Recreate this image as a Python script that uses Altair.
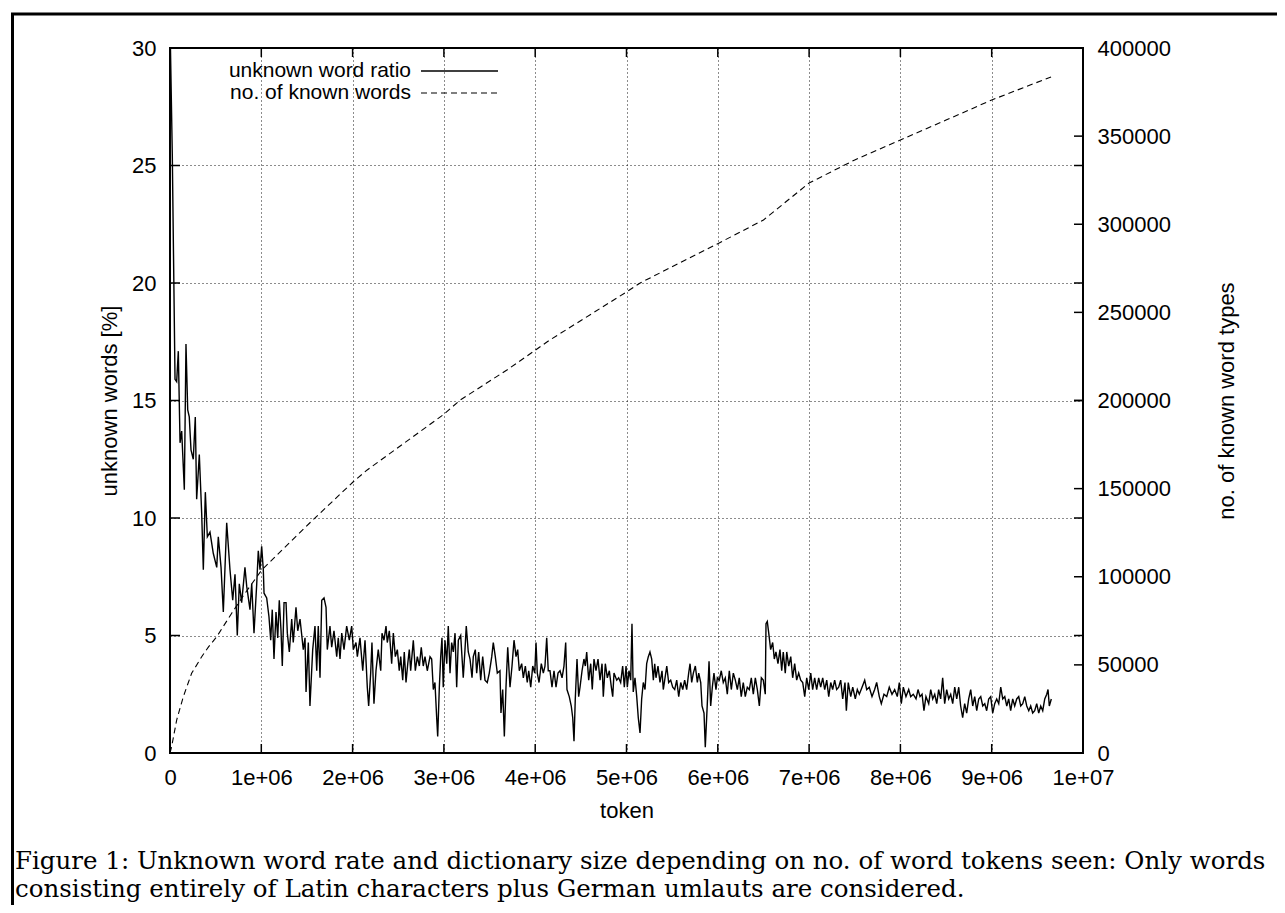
import json
import altair as alt
import pandas as pd

# ---------------- data ----------------
# unknown word ratio: (tokens seen, in millions ; unknown words in %)
unknown_ratio = [
    (0.005, 30.0), (0.025, 25.5), (0.055, 15.9), (0.073, 15.8), (0.091, 17.1), (0.110, 13.2),
    (0.128, 13.7), (0.157, 11.2), (0.175, 17.4), (0.194, 14.6), (0.211, 14.3), (0.230, 12.9),
    (0.255, 12.5), (0.277, 14.3), (0.292, 10.8), (0.321, 12.7), (0.347, 10.2), (0.365, 7.8),
    (0.387, 11.1), (0.409, 9.2), (0.438, 9.4), (0.474, 8.5), (0.512, 7.9), (0.529, 9.2),
    (0.559, 7.9), (0.584, 6.0), (0.621, 9.8), (0.657, 7.8), (0.687, 6.5), (0.712, 7.6),
    (0.737, 5.0), (0.759, 7.2), (0.785, 6.4), (0.821, 7.9), (0.840, 7.1), (0.876, 6.1),
    (0.895, 7.2), (0.920, 5.1), (0.950, 7.2), (0.967, 8.6), (0.986, 7.8), (1.004, 8.8),
    (1.022, 7.8), (1.030, 6.8), (1.059, 6.6), (1.084, 5.8), (1.103, 4.8), (1.120, 6.1),
    (1.139, 4.0), (1.161, 6.0), (1.180, 4.9), (1.197, 6.5), (1.216, 5.2), (1.230, 3.7),
    (1.249, 6.4), (1.271, 6.4), (1.285, 5.1), (1.307, 4.3), (1.333, 5.7), (1.350, 4.7),
    (1.380, 6.2), (1.399, 5.2), (1.424, 5.7), (1.460, 4.4), (1.479, 4.9), (1.490, 2.6),
    (1.515, 4.7), (1.533, 2.0), (1.563, 4.4), (1.588, 5.4), (1.607, 3.5), (1.624, 5.4),
    (1.643, 3.2), (1.662, 6.5), (1.687, 6.6), (1.709, 6.2), (1.723, 4.4), (1.752, 5.4),
    (1.771, 4.5), (1.796, 5.2), (1.826, 4.1), (1.843, 4.9), (1.862, 4.0), (1.881, 5.1),
    (1.906, 4.4), (1.935, 5.4), (1.964, 4.8), (1.990, 5.4), (2.008, 4.4), (2.037, 4.7),
    (2.052, 4.1), (2.081, 4.9), (2.111, 3.5), (2.136, 4.8), (2.161, 2.8), (2.176, 2.0),
    (2.198, 3.4), (2.212, 4.7), (2.234, 2.1), (2.256, 3.5), (2.281, 4.4), (2.308, 3.5),
    (2.322, 5.1), (2.344, 4.8), (2.366, 5.4), (2.380, 4.7), (2.402, 5.2), (2.428, 3.8),
    (2.446, 5.1), (2.468, 4.1), (2.490, 4.4), (2.511, 3.5), (2.527, 4.1), (2.549, 3.1),
    (2.566, 4.3), (2.585, 3.0), (2.604, 3.8), (2.621, 4.4), (2.636, 3.5), (2.665, 4.8),
    (2.687, 3.5), (2.709, 4.1), (2.731, 3.7), (2.752, 4.5), (2.774, 3.7), (2.793, 4.1),
    (2.818, 3.5), (2.848, 4.1), (2.866, 4.0), (2.884, 2.7), (2.902, 3.0), (2.921, 1.5),
    (2.932, 0.7), (2.950, 2.8), (2.965, 4.1), (2.979, 4.9), (2.993, 2.8), (3.012, 4.8),
    (3.031, 3.8), (3.048, 5.4), (3.067, 3.4), (3.085, 4.7), (3.103, 4.3), (3.122, 5.1),
    (3.140, 2.8), (3.158, 4.8), (3.184, 5.0), (3.198, 4.1), (3.212, 3.2), (3.231, 4.4),
    (3.245, 5.4), (3.267, 4.3), (3.286, 4.0), (3.308, 3.2), (3.322, 4.1), (3.344, 4.4),
    (3.359, 3.4), (3.381, 4.3), (3.403, 3.1), (3.425, 4.1), (3.450, 3.1), (3.475, 3.0),
    (3.497, 3.4), (3.524, 4.1), (3.541, 4.7), (3.563, 4.1), (3.585, 3.4), (3.614, 3.5),
    (3.625, 1.7), (3.644, 2.7), (3.662, 0.7), (3.680, 2.8), (3.699, 4.5), (3.724, 2.8),
    (3.746, 3.7), (3.768, 4.8), (3.790, 4.1), (3.808, 4.4), (3.826, 3.5), (3.852, 3.8),
    (3.870, 3.2), (3.892, 3.7), (3.913, 3.0), (3.929, 3.5), (3.951, 2.8), (3.973, 3.7),
    (3.995, 3.4), (4.009, 4.7), (4.023, 3.4), (4.042, 3.0), (4.067, 3.8), (4.089, 3.4),
    (4.107, 3.7), (4.126, 4.9), (4.143, 3.5), (4.162, 3.5), (4.184, 2.8), (4.206, 3.5),
    (4.228, 2.8), (4.250, 3.4), (4.272, 3.5), (4.294, 3.2), (4.315, 3.7), (4.334, 4.7),
    (4.348, 2.7), (4.373, 2.4), (4.395, 2.0), (4.411, 1.5), (4.425, 0.5), (4.439, 2.3),
    (4.458, 4.0), (4.476, 2.4), (4.491, 2.8), (4.513, 3.5), (4.534, 4.0), (4.549, 3.7),
    (4.564, 4.3), (4.586, 3.1), (4.608, 3.8), (4.625, 2.7), (4.644, 4.0), (4.666, 3.5),
    (4.688, 4.0), (4.710, 3.1), (4.732, 3.8), (4.746, 2.4), (4.768, 3.8), (4.790, 3.2),
    (4.812, 3.5), (4.834, 2.8), (4.849, 2.4), (4.863, 3.4), (4.893, 3.1), (4.914, 3.2),
    (4.936, 3.0), (4.958, 3.7), (4.976, 2.8), (4.995, 3.7), (5.009, 2.8), (5.027, 3.5),
    (5.046, 3.1), (5.060, 5.5), (5.074, 2.6), (5.093, 3.2), (5.112, 2.4), (5.129, 1.5),
    (5.148, 0.85), (5.166, 2.3), (5.184, 3.0), (5.203, 2.7), (5.221, 3.8), (5.239, 4.1),
    (5.257, 4.3), (5.276, 4.0), (5.294, 3.1), (5.309, 3.8), (5.323, 3.2), (5.345, 3.7),
    (5.367, 3.0), (5.389, 3.5), (5.403, 2.7), (5.422, 3.2), (5.441, 3.7), (5.462, 3.0),
    (5.484, 3.1), (5.506, 2.8), (5.528, 2.7), (5.550, 3.1), (5.572, 2.4), (5.594, 3.0),
    (5.616, 2.7), (5.637, 3.1), (5.659, 2.7), (5.681, 3.4), (5.696, 3.8), (5.714, 3.0),
    (5.732, 3.4), (5.754, 3.7), (5.776, 3.0), (5.791, 3.4), (5.813, 3.0), (5.827, 2.0),
    (5.849, 1.7), (5.863, 0.25), (5.885, 2.1), (5.904, 3.9), (5.922, 2.0), (5.940, 2.8),
    (5.958, 3.4), (5.980, 2.7), (5.995, 3.2), (6.016, 3.1), (6.038, 3.5), (6.060, 3.0),
    (6.082, 3.2), (6.104, 2.5), (6.126, 3.5), (6.148, 2.7), (6.170, 3.4), (6.192, 3.1),
    (6.214, 2.7), (6.235, 3.2), (6.257, 2.4), (6.279, 3.0), (6.301, 2.4), (6.323, 2.8),
    (6.345, 2.7), (6.367, 3.2), (6.389, 2.5), (6.411, 3.2), (6.433, 2.7), (6.455, 2.0),
    (6.477, 3.2), (6.498, 3.1), (6.520, 2.5), (6.528, 5.5), (6.542, 5.6), (6.558, 5.1),
    (6.579, 4.4), (6.601, 4.7), (6.619, 4.0), (6.637, 4.3), (6.659, 3.8), (6.681, 4.4),
    (6.700, 3.5), (6.717, 4.3), (6.739, 3.4), (6.755, 4.3), (6.777, 3.7), (6.799, 4.1),
    (6.820, 3.2), (6.842, 3.8), (6.864, 3.1), (6.886, 3.4), (6.908, 3.1), (6.930, 3.0),
    (6.952, 2.4), (6.974, 3.2), (6.996, 2.7), (7.018, 3.4), (7.039, 2.7), (7.061, 3.2),
    (7.083, 2.7), (7.105, 3.2), (7.127, 2.8), (7.149, 3.2), (7.171, 2.7), (7.193, 3.1),
    (7.215, 2.4), (7.237, 3.0), (7.258, 2.7), (7.280, 3.1), (7.302, 2.7), (7.324, 2.8),
    (7.346, 3.1), (7.368, 2.3), (7.393, 3.0), (7.408, 1.8), (7.429, 3.0), (7.456, 2.4),
    (7.478, 2.8), (7.506, 2.3), (7.528, 2.7), (7.550, 2.5), (7.580, 2.8), (7.609, 3.1),
    (7.631, 2.7), (7.659, 2.8), (7.689, 2.4), (7.718, 2.7), (7.740, 3.0), (7.769, 2.4),
    (7.791, 2.1), (7.820, 2.5), (7.850, 2.4), (7.878, 2.8), (7.908, 2.5), (7.937, 2.7),
    (7.966, 2.4), (7.988, 3.0), (8.010, 2.1), (8.032, 2.8), (8.061, 2.4), (8.091, 2.7),
    (8.113, 2.4), (8.141, 2.5), (8.171, 2.3), (8.193, 2.7), (8.215, 2.4), (8.237, 2.5),
    (8.258, 1.8), (8.280, 2.4), (8.310, 2.1), (8.332, 2.7), (8.354, 2.3), (8.376, 2.5),
    (8.398, 2.1), (8.419, 2.7), (8.441, 2.3), (8.463, 3.2), (8.485, 2.1), (8.507, 2.7),
    (8.529, 2.3), (8.551, 2.5), (8.573, 2.1), (8.595, 2.8), (8.617, 2.3), (8.639, 2.8),
    (8.660, 2.0), (8.682, 1.5), (8.704, 2.1), (8.726, 1.7), (8.748, 2.3), (8.770, 2.7),
    (8.792, 2.0), (8.814, 2.4), (8.836, 1.8), (8.858, 2.3), (8.880, 2.4), (8.902, 2.0),
    (8.924, 2.1), (8.945, 1.8), (8.967, 2.3), (8.989, 2.4), (9.011, 1.7), (9.033, 2.1),
    (9.055, 2.3), (9.077, 2.1), (9.099, 2.8), (9.121, 2.3), (9.143, 2.4), (9.165, 2.0),
    (9.186, 2.3), (9.208, 1.8), (9.230, 2.3), (9.252, 2.0), (9.274, 2.3), (9.296, 2.4),
    (9.318, 2.0), (9.340, 2.1), (9.362, 2.4), (9.384, 2.0), (9.406, 1.8), (9.427, 2.0),
    (9.449, 1.7), (9.471, 1.8), (9.493, 2.1), (9.515, 1.7), (9.537, 2.0), (9.559, 1.8),
    (9.581, 2.3), (9.603, 2.5), (9.617, 2.7), (9.631, 2.0), (9.653, 2.3),
]

# size of the dictionary (tokens seen in millions, no. of known word types)
known_token_m = [0.0, 0.018, 0.073, 0.146, 0.237, 0.347, 0.42, 0.512, 0.676, 0.821,
                 1.004, 1.53, 2.008, 2.16, 2.99, 3.18, 3.69, 4.16, 5.0, 5.15,
                 6.0, 6.5, 7.0, 7.5, 8.0, 8.5, 9.0, 9.65]
known_types = [0, 3600, 18700, 32000, 45200, 54600, 60100, 66000, 79300, 90600,
               103800, 130500, 153900, 160600, 191800, 200300, 217300, 234300, 261600, 266700,
               289000, 302400, 323400, 336500, 347800, 359100, 370500, 383600]

x_tick_values = [i * 1000000 for i in range(11)]
x_tick_labels = ["0", "1e+06", "2e+06", "3e+06", "4e+06", "5e+06",
                 "6e+06", "7e+06", "8e+06", "9e+06", "1e+07"]
y_tick_values = [0, 5, 10, 15, 20, 25, 30]
y2_tick_values = [0, 50000, 100000, 150000, 200000, 250000, 300000, 350000, 400000]

legend_labels = ["unknown word ratio", "no. of known words"]
caption_lines = [
    "Figure 1: Unknown word rate and dictionary size depending on no. of word tokens seen: Only words",
    "consisting entirely of Latin characters plus German umlauts are considered.",
]

# ---------------- chart ----------------
W, H = 913, 705
FONT = "Liberation Sans"
FS = 22

ratio_df = pd.DataFrame({"token": [p[0] * 1e6 for p in unknown_ratio],
                         "pct": [p[1] for p in unknown_ratio]})
known_df = pd.DataFrame({"token": [t * 1e6 for t in known_token_m], "types": known_types})
xt_df = pd.DataFrame({"token": x_tick_values})
yt_df = pd.DataFrame({"pct": y_tick_values})
y2t_df = pd.DataFrame({"types": y2_tick_values})
one = pd.DataFrame({"k": [0]})

x_scale = alt.Scale(domain=[0, 10000000], nice=False, zero=False)
y_scale = alt.Scale(domain=[0, 30], nice=False, zero=False)
y2_scale = alt.Scale(domain=[0, 400000], nice=False, zero=False)

x_axis = alt.Axis(
    values=x_tick_values,
    labelExpr=json.dumps(x_tick_labels) + "[round(datum.value / 1000000)]",
    grid=True, gridDash=[1, 3], gridColor="#000000", gridWidth=1, gridOpacity=0.9,
    ticks=False, domain=False, labelFlush=False,
    labelFont=FONT, labelFontSize=FS, labelColor="#000000", labelPadding=14,
    title="token", titleFont=FONT, titleFontSize=FS, titleFontWeight="normal",
    titleColor="#000000", titlePadding=12,
)
x_enc = alt.X("token:Q", scale=x_scale, axis=x_axis)

ratio_line = alt.Chart(ratio_df).mark_line(color="black", strokeWidth=1.4).encode(
    x=x_enc,
    y=alt.Y("pct:Q", scale=y_scale, axis=alt.Axis(
        orient="left", values=y_tick_values, format="d",
        grid=True, gridDash=[1, 3], gridColor="#000000", gridWidth=1, gridOpacity=0.9,
        ticks=False, domain=False,
        labelFont=FONT, labelFontSize=FS, labelColor="#000000", labelPadding=14,
        title="unknown words [%]", titleFont=FONT, titleFontSize=FS,
        titleFontWeight="normal", titleColor="#000000", titlePadding=10)),
)

known_line = alt.Chart(known_df).mark_line(color="black", strokeWidth=1.1, strokeDash=[6, 4]).encode(
    x=x_enc,
    y=alt.Y("types:Q", scale=y2_scale, axis=alt.Axis(
        orient="right", values=y2_tick_values, format="d", grid=False,
        ticks=False, domain=False,
        labelFont=FONT, labelFontSize=FS, labelColor="#000000", labelPadding=14,
        title="no. of known word types", titleFont=FONT, titleFontSize=FS,
        titleFontWeight="normal", titleColor="#000000", titlePadding=46,
        titleAngle=270, titleBaseline="top")),
)

# inward tick marks (gnuplot style), bottom/top
xt_bottom = alt.Chart(xt_df).mark_rule(color="black", strokeWidth=1.5).encode(
    x=x_enc, y=alt.value(H), y2=alt.value(H - 9))
xt_top = alt.Chart(xt_df).mark_rule(color="black", strokeWidth=1.5).encode(
    x=x_enc, y=alt.value(0), y2=alt.value(9))
# left axis ticks on both sides
yt_left = alt.Chart(yt_df).mark_rule(color="black", strokeWidth=1.5).encode(
    y=alt.Y("pct:Q", scale=y_scale, axis=None), x=alt.value(0), x2=alt.value(10))
yt_right = alt.Chart(yt_df).mark_rule(color="black", strokeWidth=1.5).encode(
    y=alt.Y("pct:Q", scale=y_scale, axis=None), x=alt.value(W - 9), x2=alt.value(W))
# right axis ticks
y2t_right = alt.Chart(y2t_df).mark_rule(color="black", strokeWidth=1.5).encode(
    y=alt.Y("types:Q", scale=y2_scale, axis=None), x=alt.value(W - 9), x2=alt.value(W))

# key (gnuplot style: text right-aligned, sample to the right)
leg_text1 = alt.Chart(one).mark_text(text=legend_labels[0], align="right", baseline="alphabetic",
                                     font=FONT, fontSize=21, color="black").encode(
    x=alt.value(241), y=alt.value(29))
leg_text2 = alt.Chart(one).mark_text(text=legend_labels[1], align="right", baseline="alphabetic",
                                     font=FONT, fontSize=21, color="black").encode(
    x=alt.value(241), y=alt.value(51))
leg_line1 = alt.Chart(one).mark_rule(color="black", strokeWidth=1.4).encode(
    x=alt.value(251), x2=alt.value(328), y=alt.value(23))
leg_line2 = alt.Chart(one).mark_rule(color="black", strokeWidth=1.1, strokeDash=[6, 4]).encode(
    x=alt.value(251), x2=alt.value(328), y=alt.value(45))

# figure frame (top and left edges visible)
frame_top = alt.Chart(one).mark_rule(color="black", strokeWidth=3).encode(
    x=alt.value(-159), x2=alt.value(W + 300), y=alt.value(-34))
frame_left = alt.Chart(one).mark_rule(color="black", strokeWidth=3).encode(
    x=alt.value(-157.5), y=alt.value(-35), y2=alt.value(H + 300))

caption = alt.Chart(one).mark_text(
    text=caption_lines, align="left", baseline="alphabetic", font="DejaVu Serif",
    fontSize=24.5, lineHeight=27.5, color="black").encode(
    x=alt.value(-155), y=alt.value(H + 116))

chart = alt.layer(
    ratio_line, known_line, xt_bottom, xt_top, yt_left, yt_right, y2t_right,
    leg_text1, leg_text2, leg_line1, leg_line2, frame_top, frame_left, caption,
).resolve_scale(y="independent").properties(
    width=W, height=H,
    autosize=alt.AutoSizeParams(type="none"),
    padding={"left": 162, "top": 40, "right": 194, "bottom": 152},
    background="white",
).configure_view(stroke="black", strokeWidth=2)

chart.save("out.html", embed_options={"renderer": "svg", "actions": False})
